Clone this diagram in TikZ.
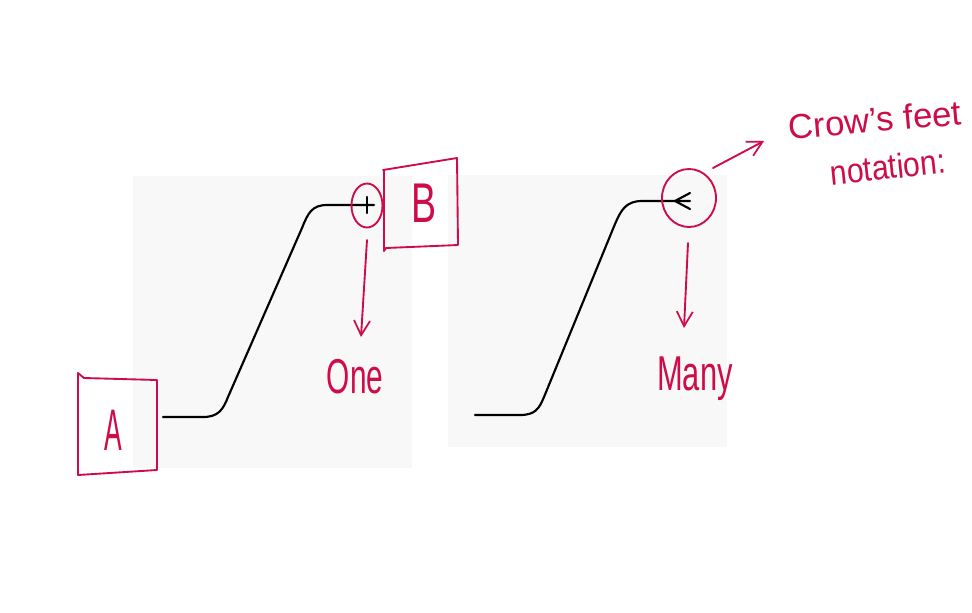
\documentclass[tikz,border=0pt]{standalone}
\usepackage{fontspec}
\setmainfont{Liberation Sans}
\usetikzlibrary{arrows.meta,shapes.geometric}
\definecolor{ink}{RGB}{205,12,72}
\definecolor{panel}{RGB}{248,248,248}
\begin{document}
\begin{tikzpicture}[x=0.75pt,y=-0.75pt,
  rel/.style={line width=1.6pt,black,line join=round,line cap=round},
  redline/.style={line width=1.4pt,ink,line join=round,line cap=round},
  redarrow/.style={redline,-{Straight Barb[length=11pt,width=12pt,line width=1.3pt]}},
  hand/.style={ink,inner sep=0pt,anchor=base},
  ring/.style={draw=ink,line width=1.4pt,ellipse,inner sep=0pt}]
\useasboundingbox (0,0) rectangle (972,612);
\fill[white] (0,0) rectangle (972,612);
% panels
\fill[panel] (133,176) rectangle (412,468);
\fill[panel] (448,175) rectangle (727,447);
% boxes
\draw[redline] (78,373) -- (84,378) -- (157,380) -- (157,470) -- (78,475) -- cycle;
\node[hand] (A) at (113.5,450) {\fontsize{44}{44}\selectfont\scalebox{0.45}[1]{A}};
\draw[redline] (383,170) -- (457,158) -- (458,245) -- (386,248) -- (384,251) -- (384,170);
\node[hand] (B) at (424.5,222) {\fontsize{42}{42}\selectfont\scalebox{0.67}[1]{B}};
% left relationship line
\coordinate (a0) at (163,417);
\coordinate (b0) at (374,205);
\draw[rel] (a0) -- (203,417) .. controls (218,417) and (223,410) .. (228,397)
  -- (302,228) .. controls (308,213) and (312,205) .. (327,205) -- (b0);
\coordinate (t1) at (367,197);
\coordinate (t2) at (367,213);
\draw[rel] (t1) -- (t2);
\node[ring,minimum width=31pt*0.75,minimum height=44pt*0.75] (one) at (367,205.5) {};
% right relationship line
\coordinate (c0) at (475,415);
\coordinate (fork) at (675,201);
\coordinate (m1) at (690,193);
\coordinate (m2) at (690,201);
\coordinate (m3) at (690,209);
\draw[rel] (c0) -- (520,415) .. controls (535,415) and (539,409) .. (544,397)
  -- (615,224) .. controls (621,210) and (626,201) .. (642,201) -- (m2);
\draw[rel] (fork) -- (m1);
\draw[rel] (fork) -- (m3);
\node[ring,minimum width=54pt*0.75,minimum height=58pt*0.75] (many) at (689,198) {};
% labels
\node[hand] (lone) at (355,393) {\fontsize{36.7}{36.7}\selectfont\scalebox{0.61}[1]{One}};
\node[hand] (lmany) at (695,390) {\fontsize{36.7}{36.7}\selectfont\scalebox{0.63}[1]{Many}};
\node[hand,rotate=5] (crow) at (876,132) {\fontsize{26}{26}\selectfont\scalebox{1.0}[1]{Crow's feet}};
\node[hand,rotate=6] (nota) at (889,179) {\fontsize{26}{26}\selectfont\scalebox{0.87}[1]{notation:}};
% arrows
\coordinate (s1) at (367,240);
\coordinate (e1) at (361,337);
\draw[redarrow] (s1) -- (e1);
\coordinate (s2) at (688,243);
\coordinate (e2) at (684,328);
\draw[redarrow] (s2) -- (e2);
\coordinate (s3) at (713,168);
\coordinate (e3) at (764,141);
\draw[redarrow] (s3) -- (e3);
\end{tikzpicture}
\end{document}
